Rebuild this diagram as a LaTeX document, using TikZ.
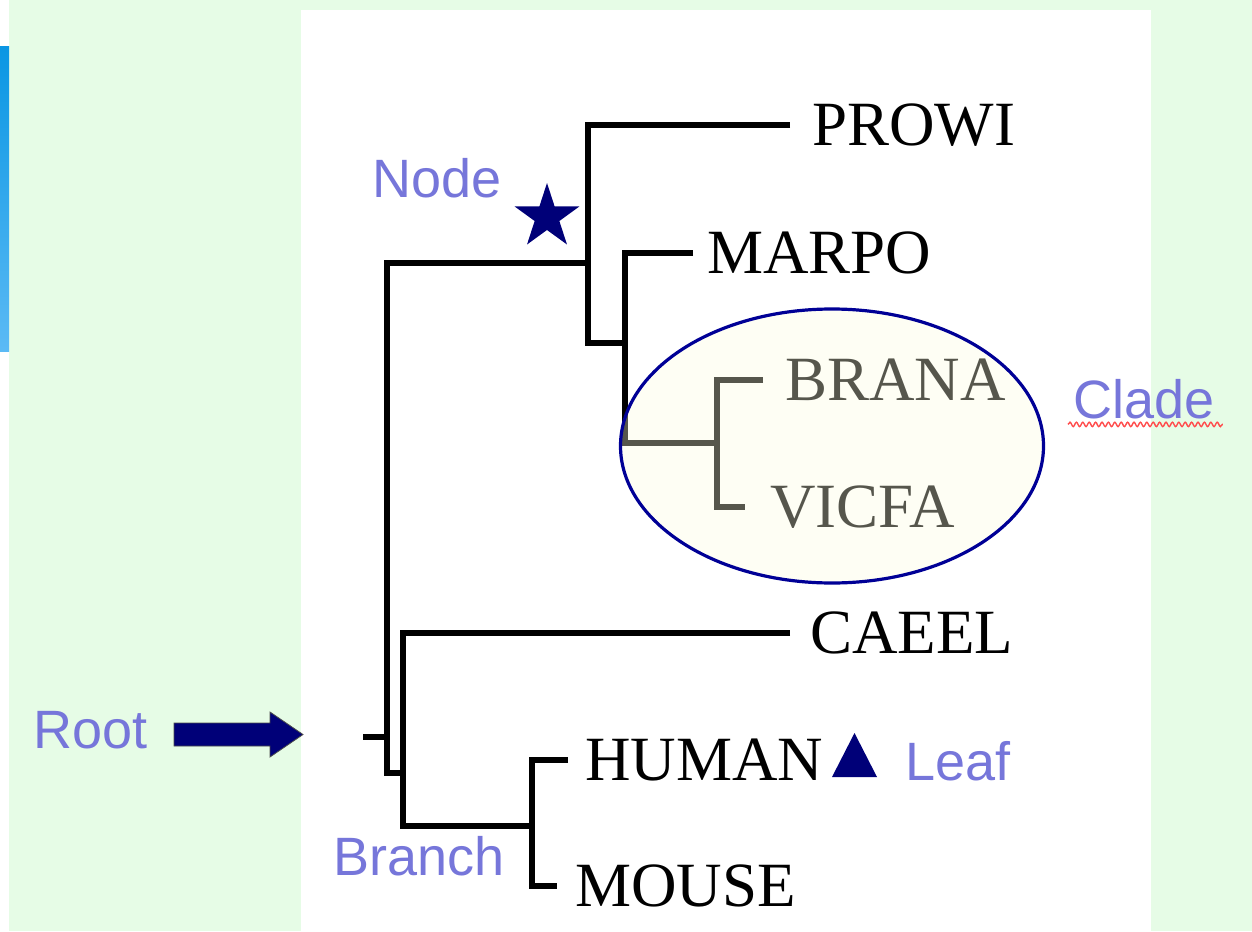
\documentclass[tikz,border=0pt]{standalone}
\usepackage{fontspec}
\setmainfont{Liberation Serif}
\newfontfamily\labelsans{Liberation Sans}
\usepackage{tikz}
\usetikzlibrary{positioning,shapes.geometric,decorations.pathmorphing}
\definecolor{slidegreen}{RGB}{230,252,230}
\definecolor{bartop}{RGB}{10,150,227}
\definecolor{barbottom}{RGB}{91,186,245}
\definecolor{marknavy}{RGB}{0,0,120}
\definecolor{ringnavy}{RGB}{0,0,150}
\definecolor{notecolor}{RGB}{118,118,218}
\definecolor{cladefill}{RGB}{253,253,225}

\begin{document}
\begin{tikzpicture}[
    x=0.5pt, y=-0.5pt,
    branch/.style={line width=2.9pt},
    leaf/.style={font=\fontsize{31.5}{36}\selectfont, inner sep=0pt, anchor=west},
    note/.style={font=\labelsans\fontsize{27}{32}\selectfont, text=notecolor,
                 inner sep=0pt, anchor=base west},
    clade/.style={ellipse, draw=ringnavy, line width=1.6pt, fill=cladefill,
                  fill opacity=0.34, minimum width=211.5pt, minimum height=137pt,
                  inner sep=0pt},
    marker/.style={fill=marknavy},
  ]

  % === Slide background ===
  \useasboundingbox (0,0) rectangle (1252,931);
  \fill[white] (0,0) rectangle (1252,931);
  \fill[slidegreen] (9,0) rectangle (1252,931);
  \shade[top color=bartop, bottom color=barbottom] (0,47) rectangle (9,351);
  \fill[white] (301,10) rectangle (1151,931);

  % === Tree joints and tips ===
  \coordinate (root) at (363,737);
  \coordinate (n0) at (387,737);
  \coordinate (nA) at (588,263);
  \coordinate (nB) at (625,343);
  \coordinate (nC) at (717,443);
  \coordinate (nD) at (403,773);
  \coordinate (nE) at (532,826);
  \coordinate (t-prowi) at (790,125);
  \coordinate (t-marpo) at (693,253);
  \coordinate (t-brana) at (763,380);
  \coordinate (t-vicfa) at (745,507);
  \coordinate (t-caeel) at (790,633);
  \coordinate (t-human) at (568,760);
  \coordinate (t-mouse) at (557,886);

  % === Branches ===
  \draw[branch] (root) -- (n0);
  \draw[branch] (nA) -| (n0) |- (nD);
  \draw[branch] (t-prowi) -| (nA) |- (nB);
  \draw[branch] (t-marpo) -| (nB) |- (nC);
  \draw[branch] (t-brana) -| (nC) |- (t-vicfa);
  \draw[branch] (t-caeel) -| (nD) |- (nE);
  \draw[branch] (t-human) -| (nE) |- (t-mouse);

  % === Leaf names ===
  \node[leaf, right=11pt of t-prowi] (prowi) {PROWI};
  \node[leaf, right=7pt of t-marpo] (marpo) {MARPO};
  \node[leaf, right=11pt of t-brana] (brana) {BRANA};
  \node[leaf, right=12.5pt of t-vicfa] (vicfa) {VICFA};
  \node[leaf, right=10pt of t-caeel] (caeel) {CAEEL};
  \node[leaf, right=8.5pt of t-human] (human) {HUMAN};
  \node[leaf, right=9pt of t-mouse] (mouse) {MOUSE};

  % === Clade ring ===
  \node[clade] (cladering) at (832,446) {};

  % === Annotations ===
  \node[note] (nodelbl) at (372,197) {Node};
  \node[marker, star, star points=5, star point ratio=2.618, minimum size=34pt,
        inner sep=0pt] (nodestar) at (547,217) {};

  \node[note] (rootlbl) at (33,748) {Root};
  \coordinate (rootarrow) at (174,734.5);
  \filldraw[marker, draw=black!70, line width=0.4pt] (rootarrow) ++(0,-11.5)
    -- ++(96,0) -- ++(0,-11) -- ++(33,22.5) -- ++(-33,22.5) -- ++(0,-11)
    -- ++(-96,0) -- cycle;

  \node[note] (branchlbl) at (333,875) {Branch};

  \fill[marker] (832,777) -- (877,777) -- (854.5,733) -- cycle;
  \node[note] (leaflbl) at (905,780) {Leaf};

  \node[note] (cladelbl) at (1073,418) {Clade};
  \draw[red!70, line width=0.7pt, decorate,
        decoration={snake, amplitude=1.1pt, segment length=3.2pt}]
    ([xshift=-2.5pt, yshift=-3.2pt]cladelbl.base west)
    -- ([xshift=4pt, yshift=-3.2pt]cladelbl.base east);

\end{tikzpicture}
\end{document}
